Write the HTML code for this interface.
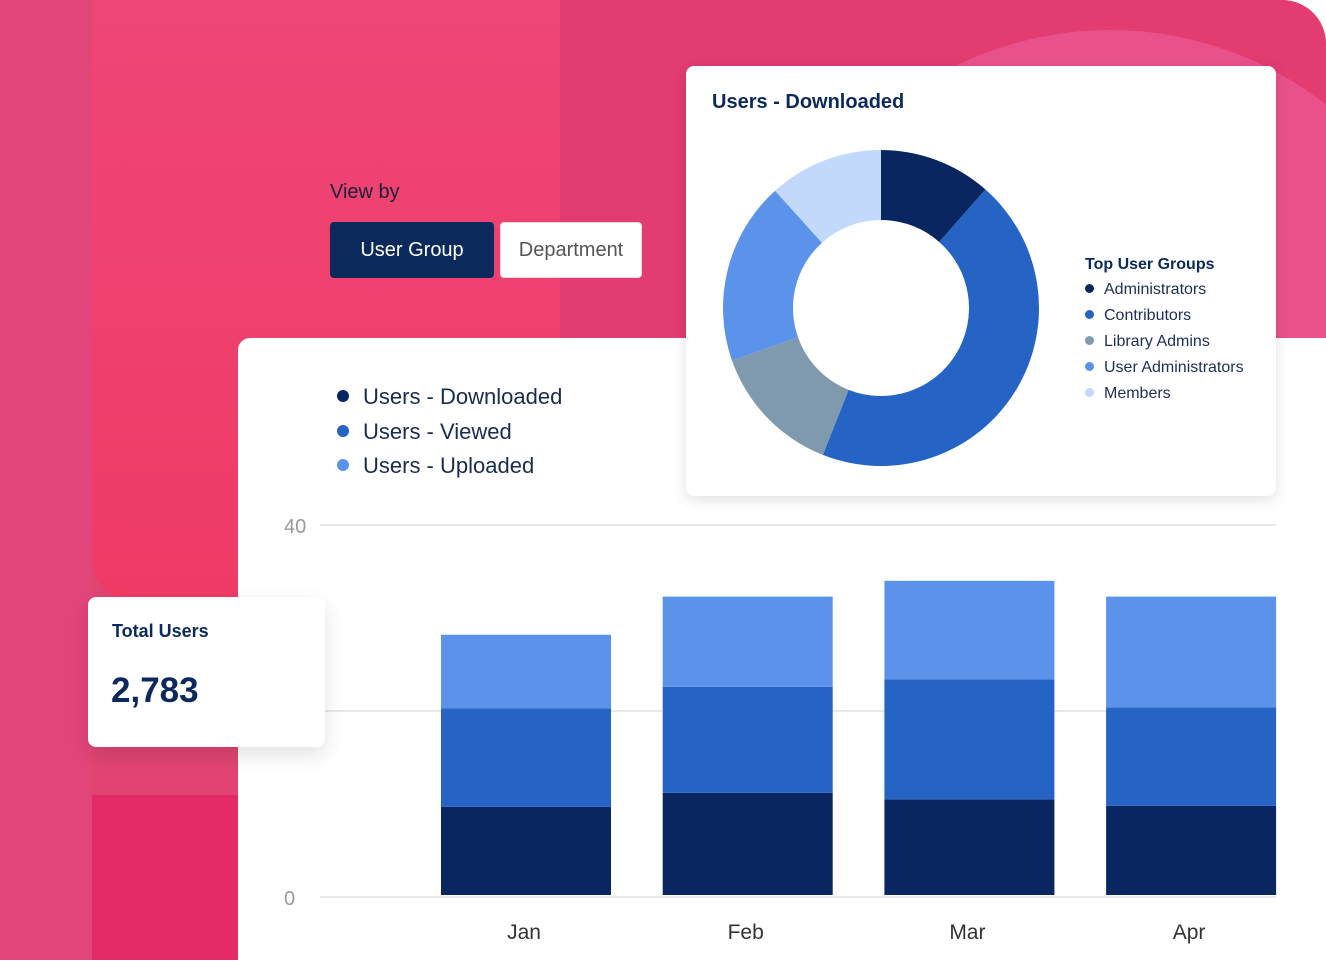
<!DOCTYPE html>
<html><head><meta charset="utf-8"><style>
body{margin:0;width:1326px;height:960px;overflow:hidden;background:#fff;font-family:"Liberation Sans",sans-serif;position:relative}
.abs{position:absolute}
</style></head><body>
<div class="abs" style="left:0;top:0;width:1326px;height:960px;border-top-right-radius:44px;overflow:hidden;background:#e14473">
 <div class="abs" style="left:0;top:0;width:92px;height:960px;background:#e2457a"></div>
 <div class="abs" style="left:92px;top:0;width:470px;height:600px;background:linear-gradient(180deg,#ee4677,#f03a66);border-radius:0 0 0 40px"></div>
 <div class="abs" style="left:92px;top:795px;width:146px;height:165px;background:#e52b67"></div>
 <div class="abs" style="left:560px;top:0;width:766px;height:340px;background:#e23c71"></div>
 <div class="abs" style="left:760px;top:30px;width:700px;height:700px;border-radius:50%;background:#e9518a"></div>
</div>
<div class="abs" style="left:238px;top:338px;width:1100px;height:640px;background:#fff;border-radius:12px"></div>

<div class="abs" style="left:330px;top:181px;font-size:20px;color:#1a1f36">View by</div>
<div class="abs" style="left:330px;top:222px;width:164px;height:56px;background:#0b2a5b;border-radius:4px;color:#fff;font-size:20px;line-height:56px;text-align:center">User Group</div>
<div class="abs" style="left:500px;top:222px;width:140px;height:54px;background:#fff;border:1px solid #ddd;border-radius:4px;color:#555;font-size:20px;line-height:54px;text-align:center">Department</div>

<div>
 <div class="abs" style="left:337px;top:384px;font-size:22px;color:#1a2b50"><span style="display:inline-block;width:12px;height:12px;border-radius:50%;background:#0a2660;margin-right:14px;vertical-align:2px"></span>Users - Downloaded</div>
 <div class="abs" style="left:337px;top:419px;font-size:22px;color:#1a2b50"><span style="display:inline-block;width:12px;height:12px;border-radius:50%;background:#2563c4;margin-right:14px;vertical-align:2px"></span>Users - Viewed</div>
 <div class="abs" style="left:337px;top:453px;font-size:22px;color:#1a2b50"><span style="display:inline-block;width:12px;height:12px;border-radius:50%;background:#5b93ea;margin-right:14px;vertical-align:2px"></span>Users - Uploaded</div>
</div>

<svg id="bars" class="abs" style="left:0;top:0" width="1326" height="960"></svg>

<div class="abs" style="left:88px;top:597px;width:237px;height:150px;background:#fff;border-radius:8px;box-shadow:0 8px 20px rgba(0,0,0,0.12)">
 <div class="abs" style="left:24px;top:24px;font-size:18px;font-weight:bold;color:#0b2a5b">Total Users</div>
 <div class="abs" style="left:23px;top:74px;font-size:35px;font-weight:bold;color:#0b2a5b">2,783</div>
</div>

<div class="abs" style="left:686px;top:66px;width:590px;height:430px;background:#fff;border-radius:8px;box-shadow:0 4px 14px rgba(0,0,0,0.12)">
 <div class="abs" style="left:26px;top:25px;font-size:20px;font-weight:bold;color:#0b2a5b">Users - Downloaded</div>
 <div class="abs" style="left:399px;top:190px;font-size:16px;font-weight:bold;color:#0b2a5b">Top User Groups</div>
 <div id="dleg"></div>
</div>
<svg id="donut" class="abs" style="left:0;top:0" width="1326" height="960"></svg>

<script>
const months=["Jan","Feb","Mar","Apr"];
const downloaded=[9.7,11.2,10.5,9.8];
const viewed=[10.6,11.4,12.9,10.6];
const uploaded=[7.9,9.7,10.6,11.9];
const yTicks=[0,20,40];
const yTickLabels=["0","","40"];
const groups=["Administrators","Contributors","Library Admins","User Administrators","Members"];
const shares=[11.5,44.5,13.6,18.7,11.7];

const NS="http://www.w3.org/2000/svg";
function mk(parent,tag,attrs){const e=document.createElementNS(NS,tag);for(const k in attrs)e.setAttribute(k,attrs[k]);parent.appendChild(e);return e;}
const svg=document.getElementById('bars');
const y0=897,y40=525;
const y=v=>y0-(v/40)*(y0-y40);
const x=i=>441+i*221.7;
const bw=170;
yTicks.forEach((t,i)=>{
 const l=mk(svg,'line',{x1:320,x2:1276,y1:y(t),y2:y(t),stroke:'#e0e0e0','stroke-width':1.5});
 
 
 if(yTickLabels[i]){const tx=mk(svg,'text',{x:284,y:y(t)+8,'text-anchor':'start','font-size':20,fill:'#9a9a9a','font-family':'Liberation Sans'});tx.textContent=yTickLabels[i];
 
 }
});
const series=[[downloaded,'#0a2660'],[viewed,'#2563c4'],[uploaded,'#5b93ea']];
months.forEach((m,i)=>{
 let base=0;
 series.forEach(([arr,c])=>{
  const top=base+arr[i];
  const r=mk(svg,'rect',{x:x(i),y:y(top),width:bw,height:y(base)-y(top)-(base===0?2:0),fill:c});
  
  
  base=top;
 });
 const t=mk(svg,'text',{x:x(i)+bw/2-2,y:939,'text-anchor':'middle','font-size':21,fill:'#333','font-family':'Liberation Sans'});
 t.textContent=m;
 
 
});

const dsvg=document.getElementById('donut');
const cx=881,cy=308,R=158,r0=88;
const cols=['#0a2660','#2563c4','#7f99ae','#5b93ea','#c2d9fb'];
const tot=shares.reduce((a,b)=>a+b,0);
let acc=0;
function pt(a,rad){return [cx+rad*Math.sin(a),cy-rad*Math.cos(a)];}
shares.forEach((s,i)=>{
 const a1=acc/tot*2*Math.PI;acc+=s;const a2=acc/tot*2*Math.PI;
 const lg=(a2-a1)>Math.PI?1:0;
 const [x1,y1]=pt(a1,R),[x2,y2]=pt(a2,R),[x3,y3]=pt(a2,r0),[x4,y4]=pt(a1,r0);
 const p=mk(dsvg,'path',{d:`M${x1},${y1}A${R},${R} 0 ${lg} 1 ${x2},${y2}L${x3},${y3}A${r0},${r0} 0 ${lg} 0 ${x4},${y4}Z`,fill:cols[i]});
 
 
});
const dl=document.getElementById('dleg');
groups.forEach((g,i)=>{
 const d=document.createElement('div');
 d.className='abs';
 d.style.cssText=`left:399px;top:${215+i*26}px;font-size:16px;color:#1e2f55;white-space:nowrap`;
 d.innerHTML=`<span style="display:inline-block;width:9px;height:9px;border-radius:50%;background:${cols[i]};margin-right:10px;vertical-align:1px"></span>${g}`;
 
 
 dl.appendChild(d);
});
</script>
</body></html>
